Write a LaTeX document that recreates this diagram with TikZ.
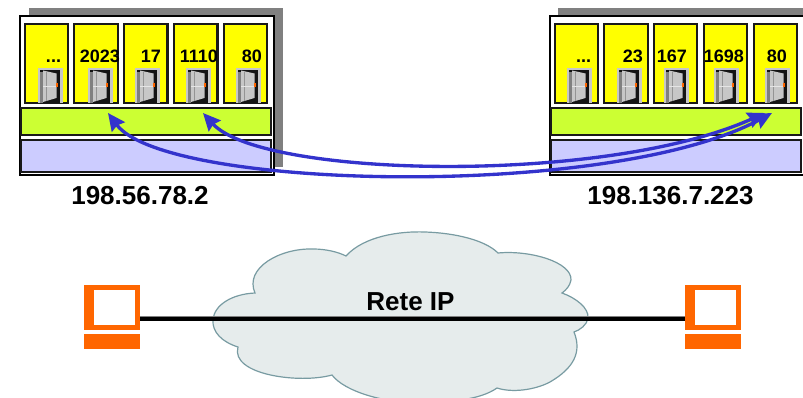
\documentclass[tikz,border=0pt]{standalone}
\usepackage{fontspec}
\setmainfont{Liberation Sans}
\usetikzlibrary{arrows.meta}
\definecolor{arrowblue}{RGB}{51,51,204}
\definecolor{portyellow}{RGB}{255,255,0}
\definecolor{tlgreen}{RGB}{204,255,51}
\definecolor{lav}{RGB}{204,204,255}
\definecolor{pcorange}{RGB}{255,102,0}
\definecolor{cloudfill}{RGB}{230,236,236}
\definecolor{cloudline}{RGB}{120,155,162}
\tikzset{
  x=0.75pt,y=-0.75pt,
  every node/.style={inner sep=0pt,outer sep=0pt},
  shadowbox/.style={fill=black!50,draw=none},
  hostbox/.style={fill=white,draw=black,line width=1.5pt,minimum width=190.5pt,minimum height=119.25pt},
  portbox/.style={fill=portyellow,draw=black!90,line width=1.6pt,minimum width=32.5pt,minimum height=59.25pt},
  layerg/.style={fill=tlgreen,draw=black!90,line width=1.6pt,minimum width=187.5pt,minimum height=20.25pt},
  layerl/.style={fill=lav,draw=black!90,line width=1.6pt,minimum width=187.5pt,minimum height=24pt},
  portlabel/.style={font=\fontsize{13.5pt}{15pt}\selectfont\bfseries,anchor=base east},
  biglabel/.style={font=\fontsize{19.5pt}{22pt}\selectfont\bfseries,anchor=base},
  flow/.style={arrowblue,line width=2.5pt,{Stealth[length=13pt,width=12pt,inset=1.5pt]}-{Stealth[length=13pt,width=12pt,inset=1.5pt]}},
  door/.pic={
    \fill[black!22] (-12.5,-35) rectangle (12.5,0);
    \fill[black!92] (-10,-33) rectangle (10,0);
    \fill[black!50] (-10,-31) rectangle (-7,0);
    \fill[black!22] (-7,-32.5) -- (6.5,-29.5) -- (6.5,-5) -- (-7,-1) -- cycle;
    \draw[black!42,line width=0.4pt] (-4,-31) -- (-4,-2);
    \draw[black!10,line width=0.5pt] (-7,-17) -- (6.5,-17);
    \fill[pcorange] (5.5,-19.5) rectangle (7.5,-15.5);
  }
}
\begin{document}
\begin{tikzpicture}
\useasboundingbox (0,0) rectangle (803,398);
% cloud
\fill[cloudfill,draw=cloudline,line width=0.9pt]
  (238,347) .. controls (222,342) and (212,332) .. (213,320)
  .. controls (214,305) and (232,294) .. (255,293)
  .. controls (244,268) and (280,248) .. (313,249)
  .. controls (326,249) and (338,252) .. (346,256)
  .. controls (364,236) and (400,231) .. (425,232)
  .. controls (455,233) and (485,240) .. (498,253)
  .. controls (530,250) and (572,262) .. (571,280)
  .. controls (570,286) and (566,290) .. (562,293)
  .. controls (576,298) and (589,308) .. (588,318)
  .. controls (587,325) and (580,330) .. (574,332)
  .. controls (582,352) and (574,368) .. (550,382)
  .. controls (535,390) and (512,393) .. (497,388)
  .. controls (480,400) and (450,402) .. (420,403)
  .. controls (385,403) and (345,392) .. (332,375)
  .. controls (300,384) and (230,375) .. (238,347) -- cycle;
% left host
\fill[shadowbox] (29,8) rectangle (283,167);
\node[hostbox] (lhost) at (147,95.5) {};
\node[portbox] (lp1) at (46.3,63.5) {};
\node[portbox] (lp2) at (96,63.5) {};
\node[portbox] (lp3) at (145.8,63.5) {};
\node[portbox] (lp4) at (195.8,63.5) {};
\node[portbox] (lp5) at (245.5,63.5) {};
\node[layerg] (lg) at (146,121.5) {};
\node[layerl] (ll) at (146,156) {};
\pic at (50,103) {door};
\pic at (100,103) {door};
\pic at (147,103) {door};
\pic at (198,103) {door};
\pic at (248,103) {door};
\node[portlabel] (lt1) at (61,63) {...};
\node[portlabel] (lt2) at (120,63) {2023};
\node[portlabel] (lt3) at (161,63) {17};
\node[portlabel] (lt4) at (218,63) {1110};
\node[portlabel] (lt5) at (262,63) {80};
% right host
\fill[shadowbox] (558,8) rectangle (813,167);
\node[hostbox] (rhost) at (677,95.5) {};
\node[portbox] (rp1) at (576.3,63.5) {};
\node[portbox] (rp2) at (626,63.5) {};
\node[portbox] (rp3) at (675.5,63.5) {};
\node[portbox] (rp4) at (725.5,63.5) {};
\node[portbox] (rp5) at (775.5,63.5) {};
\node[layerg] (rg) at (676,121.5) {};
\node[layerl] (rl) at (676,156) {};
\pic at (579,103) {door};
\pic at (629,103) {door};
\pic at (676,103) {door};
\pic at (726,103) {door};
\pic at (777,103) {door};
\node[portlabel] (rt1) at (591,63) {...};
\node[portlabel] (rt2) at (643,63) {23};
\node[portlabel] (rt3) at (687,63) {167};
\node[portlabel] (rt4) at (744,63) {1698};
\node[portlabel] (rt5) at (787,63) {80};
% addresses
\node[biglabel] (laddr) at (140,205) {198.56.78.2};
\node[biglabel] (raddr) at (670.5,205) {198.136.7.223};
% flows
\coordinate (a1) at (108,113);
\coordinate (a2) at (772,113);
\coordinate (b1) at (203,113);
\coordinate (b2) at (765,113);
\draw[flow] (a1) .. controls (165,190) and (610,200) .. (a2);
\draw[flow] (b1) .. controls (262,178) and (605,185) .. (b2);
% computers
\node[fill=pcorange,minimum width=42pt,minimum height=33.75pt] (lpc) at (112,307.5) {};
\fill[white] (94,290) rectangle (135,325);
\node[fill=pcorange,minimum width=42pt,minimum height=11pt] (lbase) at (112,341.3) {};
\node[fill=pcorange,minimum width=42pt,minimum height=33.75pt] (rpc) at (713,307.5) {};
\fill[white] (695,290) rectangle (736,325);
\node[fill=pcorange,minimum width=42pt,minimum height=11pt] (rbase) at (713,341.3) {};
% link
\draw[black,line width=3.6pt] (lpc.east |- 0,319) -- (rpc.west |- 0,319);
\draw[black!50,line width=0.6pt] (lpc.east |- 0,316.5) -- (rpc.west |- 0,316.5);
\node[biglabel] (rete) at (410.5,311) {Rete IP};
\end{tikzpicture}
\end{document}
